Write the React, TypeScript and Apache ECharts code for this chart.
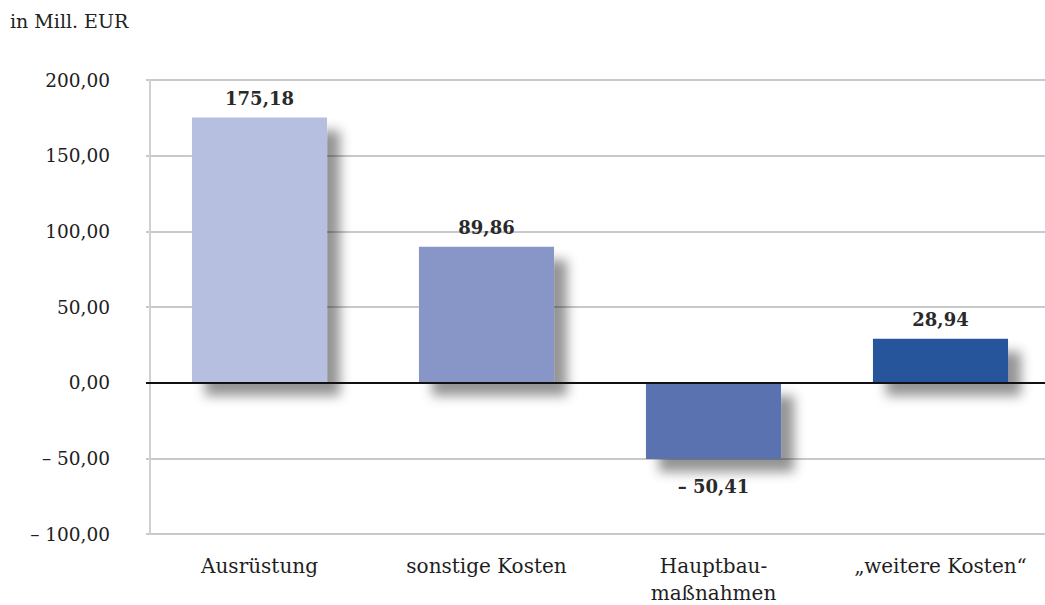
import React, { useEffect, useRef } from "react";
import * as echarts from "echarts";

const categories = ["Ausrüstung", "sonstige Kosten", "Hauptbau-\nmaßnahmen", "„weitere Kosten“"];
const values = [175.18, 89.86, -50.41, 28.94];
const barColors = ["#b6bfdf", "#8796c6", "#5a72b0", "#28549c"];
const yTicks = { min: -100, max: 200, interval: 50 };
const unitLabel = "in Mill. EUR";

const FONT = "'DejaVu Serif', 'Liberation Serif', serif";

// German number format with an en dash for negatives
function fmt(v: number): string {
  const s = Math.abs(v).toFixed(2).replace(".", ",");
  return v < 0 ? "– " + s : s;
}

export default function App() {
  const ref = useRef<HTMLDivElement>(null);

  useEffect(() => {
    if (!ref.current) return;
    const chart = echarts.init(ref.current, undefined, { renderer: "svg" });
    chart.setOption({
      animation: false,
      backgroundColor: "#ffffff",
      textStyle: { fontFamily: FONT },
      graphic: [
        {
          type: "text",
          left: 10,
          top: 11,
          style: { text: unitLabel, font: `19px ${FONT}`, fill: "#222" },
        },
      ],
      grid: {
        left: 146,
        top: 80,
        width: 908,
        height: 454,
        containLabel: false,
        outerBoundsMode: "none",
      },
      xAxis: {
        type: "category",
        data: categories,
        axisLine: { show: false },
        axisTick: { show: false },
        axisLabel: {
          interval: 0,
          margin: 18,
          fontSize: 20,
          lineHeight: 27,
          color: "#1e1e1e",
          fontFamily: FONT,
          verticalAlign: "top",
        },
      },
      yAxis: {
        type: "value",
        min: yTicks.min,
        max: yTicks.max,
        interval: yTicks.interval,
        offset: -4,
        axisLine: { show: true, lineStyle: { color: "#cfd0d2", width: 2 } },
        axisTick: { show: false },
        axisLabel: {
          margin: 40,
          fontSize: 18.5,
          color: "#1e1e1e",
          fontFamily: FONT,
          formatter: (v: number) => fmt(v),
        },
        splitLine: { lineStyle: { color: "#c8c9cb", width: 2 } },
      },
      series: [
        {
          type: "bar",
          barCategoryGap: "40.5%",
          data: values.map((v, i) => ({
            value: v,
            itemStyle: {
              color: barColors[i],
              shadowColor: "rgba(0,0,0,0.42)",
              shadowBlur: 12,
              shadowOffsetX: 13,
              shadowOffsetY: 13,
            },
            label: {
              position: v < 0 ? "bottom" : "top",
              distance: v < 0 ? 19 : 10,
            },
          })),
          label: {
            show: true,
            fontSize: 18,
            fontWeight: "bold",
            color: "#2a2a2a",
            fontFamily: FONT,
            formatter: (p: any) => fmt(p.value),
          },
          markLine: {
            silent: true,
            symbol: "none",
            label: { show: false },
            lineStyle: { color: "#111", width: 2, type: "solid" },
            data: [{ yAxis: 0 }],
          },
          z: 2,
        },
      ],
    });
    return () => chart.dispose();
  }, []);

  return (
    <div
      ref={ref}
      style={{ position: "fixed", left: 0, top: 0, width: 1045, height: 605 }}
    />
  );
}
